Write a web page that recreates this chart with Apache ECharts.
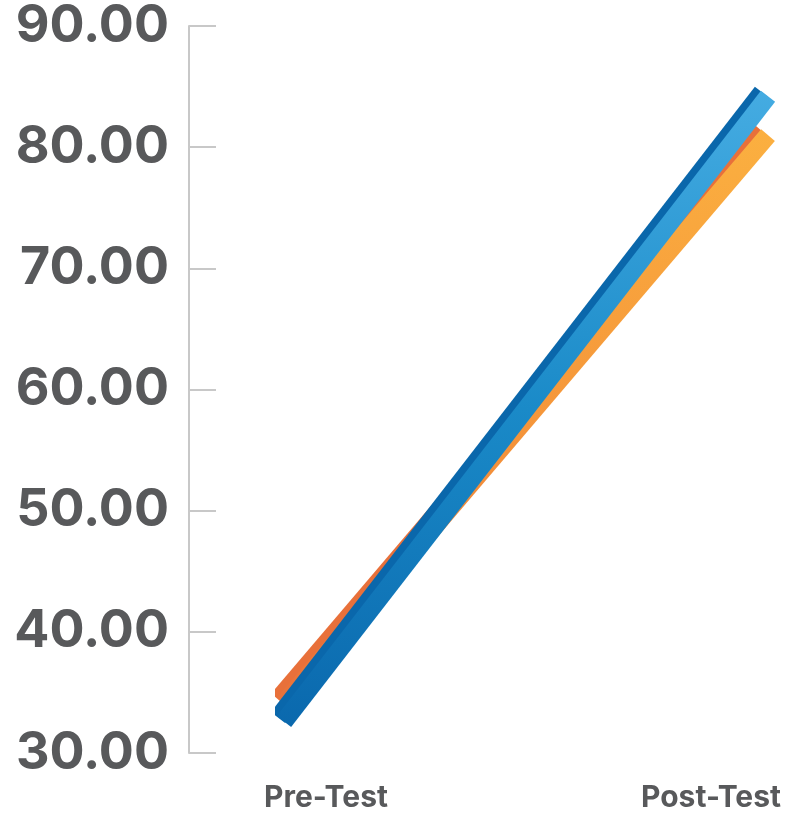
<!DOCTYPE html>
<html>
<head>
    <meta charset="utf-8">
    <title>Pre-Test / Post-Test</title>
    <script src="https://cdn.jsdelivr.net/npm/echarts@6/dist/echarts.min.js"></script>
    <style>
        html, body { margin: 0; padding: 0; background: #fff; }
        #chartmain { width: 787px; height: 814px; }
    </style>
</head>
<body>
<div id="chartmain"></div>
<script>
    // data
    var categories = ['Pre-Test', 'Post-Test'];
    var orangeValues = [34.1, 81.0];
    var blueValues = [32.6, 84.2];
    var yTicks = [30, 40, 50, 60, 70, 80, 90];

    var labelGrey = '#58595b';

    // ribbon: face with gradient, dark side drawn as an offset shadow
    function ribbon(name, values, bottomColor, midColor, topColor, sideColor) {
        return {
            name: name,
            type: 'line',
            xAxisIndex: 0,
            yAxisIndex: 0,
            data: values,
            symbol: 'none',
            silent: true,
            lineStyle: {
                width: 18,
                cap: 'butt',
                color: {
                    type: 'linear', x: 0, y: 1, x2: 0, y2: 0,
                    colorStops: [
                        {offset: 0, color: bottomColor},
                        {offset: 0.5, color: midColor},
                        {offset: 1, color: topColor}
                    ]
                },
                shadowColor: sideColor,
                shadowBlur: 0,
                shadowOffsetX: -6,
                shadowOffsetY: -4
            }
        };
    }

    var option = {
        animation: false,
        grid: [
            {left: 284, right: 19, top: 20, bottom: 61},
            {left: 326, right: 76, top: 20, bottom: 61}
        ],
        xAxis: [
            {
                gridIndex: 0,
                type: 'category',
                boundaryGap: false,
                data: categories,
                show: false
            },
            {
                gridIndex: 1,
                type: 'category',
                boundaryGap: false,
                data: categories,
                axisLine: {show: false},
                axisTick: {show: false},
                axisLabel: {
                    margin: 30,
                    color: labelGrey,
                    fontFamily: 'Inter',
                    fontWeight: 'bold',
                    fontSize: 30
                }
            }
        ],
        yAxis: [
            {
                gridIndex: 0,
                type: 'value',
                min: yTicks[0],
                max: yTicks[yTicks.length - 1],
                interval: 10,
                offset: 95,
                splitLine: {show: false},
                axisLine: {show: true, lineStyle: {color: '#c8c8c8', width: 2}},
                axisTick: {show: true, inside: true, length: 27, lineStyle: {color: '#c8c8c8', width: 2}},
                axisLabel: {
                    margin: 20,
                    color: labelGrey,
                    fontFamily: 'Inter',
                    fontWeight: 'bold',
                    fontSize: 52,
                    formatter: function (v) { return v.toFixed(2); }
                }
            },
            {
                gridIndex: 1,
                type: 'value',
                show: false
            }
        ],
        series: [
            ribbon('Orange', orangeValues, '#e8703a', '#f5963a', '#fbb040', '#e8703a'),
            ribbon('Blue', blueValues, '#0a68ad', '#1a8ac8', '#45ace2', '#0a67ab')
        ]
    };

    var myChart = echarts.init(document.getElementById('chartmain'));
    myChart.setOption(option);
</script>
</body>
</html>
